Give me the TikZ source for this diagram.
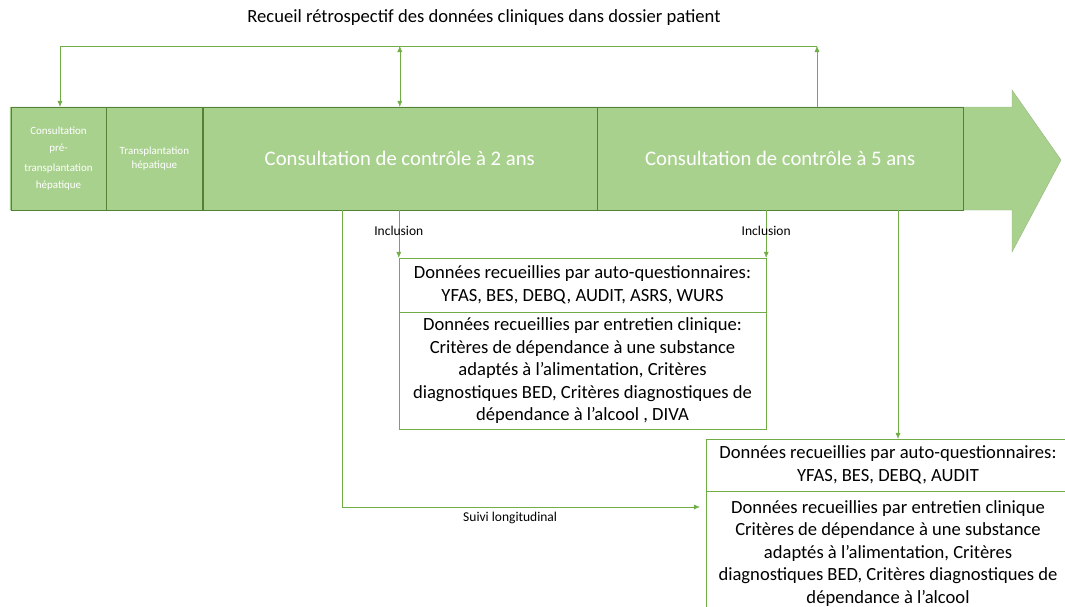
\documentclass[tikz,border=0pt]{standalone}
\usepackage{fontspec}
\setmainfont{Carlito}
\usetikzlibrary{arrows.meta,positioning}

\definecolor{vert}{HTML}{A9D18E}
\definecolor{vertfonce}{HTML}{548235}
\definecolor{vertligne}{HTML}{70AD47}

\tikzset{
  etape/.style={draw=vertfonce, fill=vert, text=white, minimum height=103, inner sep=1pt, align=center},
  donnees/.style={draw=vertligne, fill=white, text=black, minimum width=367, inner sep=0pt, align=center,
    font=\fontsize{18.6}{22.5}\selectfont},
  fleche/.style={draw=vertligne, -{Latex[length=6pt,width=5pt]}},
  petit/.style={font=\fontsize{13.5}{15}\selectfont, text=black},
}

\begin{document}
\begin{tikzpicture}[x=1pt, y=-1pt]
  \clip (0,0) rectangle (1065,606);

  % grande fleche du temps
  \path[fill=vert, draw=vertfonce!60]
    (10,107) -- (1012,107) -- (1012,90) -- (1061,160) -- (1012,252) -- (1012,210) -- (10,210) -- cycle;

  \node [etape, minimum width=95, font=\fontsize{11}{16.5}\selectfont] (pre) at (58.5,158.5)
    {Consultation\\pré-\\[4pt]transplantation\\hépatique};
  \node [etape, minimum width=96, font=\fontsize{11}{14}\selectfont] (greffe) [right=0pt of pre]
    {Transplantation\\hépatique};
  \node [etape, minimum width=394, font=\fontsize{20.7}{24}\selectfont] (deuxans) [right=0pt of greffe]
    {Consultation de contrôle à 2 ans};
  \node [etape, minimum width=366, font=\fontsize{20.7}{24}\selectfont] (cinqans) [right=0pt of deuxans]
    {Consultation de contrôle à 5 ans};

  % recueil retrospectif
  \node [font=\fontsize{18.6}{20}\selectfont] (titre) at (484,18)
    {Recueil rétrospectif des données cliniques dans dossier patient};
  \coordinate (hg) at (60,46);
  \coordinate (hd) at (817,46);
  \draw [draw=vertligne] (hg) -- (hd);
  \draw [fleche] (hg) -- (hg |- pre.north);
  \draw [fleche, {Latex[length=6pt,width=5pt]}-{Latex[length=6pt,width=5pt]}] (deuxans.north |- hg) -- (deuxans.north);
  \draw [fleche] (hd |- cinqans.north) -- (hd);

  % donnees a 2 ans
  \node [donnees, minimum height=54] (autoA) at (582.5,285)
    {Données recueillies par auto-questionnaires:\\YFAS, BES, DEBQ, AUDIT, ASRS, WURS};
  \node [donnees, minimum height=117] (entretienA) [below=0pt of autoA]
    {Données recueillies par entretien clinique:\\Critères de dépendance à une substance\\adaptés à l’alimentation, Critères\\diagnostiques BED, Critères diagnostiques de\\dépendance à l’alcool , DIVA};

  % donnees a 5 ans
  \node [donnees, minimum width=364, minimum height=52] (autoB) at (888,465)
    {Données recueillies par auto-questionnaires:\\YFAS, BES, DEBQ, AUDIT};
  \node [donnees, minimum width=364, minimum height=124] (entretienB) [below=0pt of autoB]
    {Données recueillies par entretien clinique\\Critères de dépendance à une substance\\adaptés à l’alimentation, Critères\\diagnostiques BED, Critères diagnostiques de\\dépendance à l’alcool};
  \coordinate (cinq) at ([xshift=10pt]autoB.north);

  % inclusions
  \draw [fleche] (autoA.north west |- deuxans.south) -- (autoA.north west)
    node [petit, pos=0.43] {Inclusion};
  \draw [fleche] (autoA.north east |- cinqans.south) -- (autoA.north east)
    node [petit, pos=0.43] {Inclusion};
  \draw [fleche] (cinq |- cinqans.south) -- (cinq);

  % suivi
  \coordinate (suivi) at (342,507);
  \draw [fleche] (suivi |- deuxans.south) -- (suivi) -- ([xshift=-6pt]entretienB.west |- suivi)
    node [petit, pos=0.47, below=2pt] {Suivi longitudinal};
\end{tikzpicture}
\end{document}
